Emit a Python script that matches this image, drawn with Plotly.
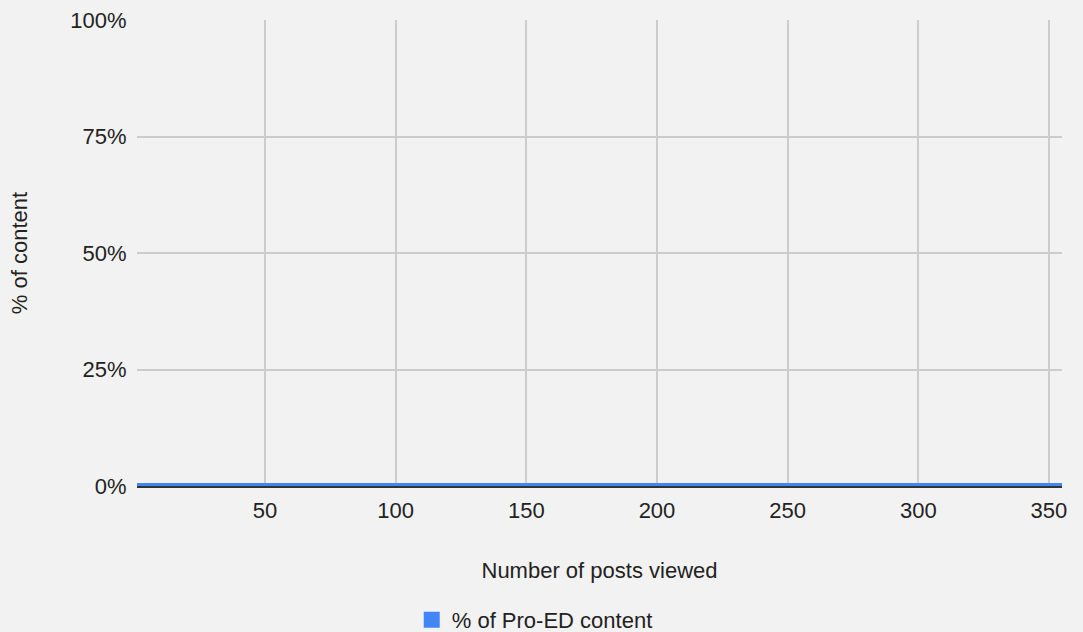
import plotly.graph_objects as go

posts_viewed = list(range(1, 356))
pro_ed_share = [0.0] * len(posts_viewed)  # every reading sits on 0%
x_ticks = [50, 100, 150, 200, 250, 300, 350]
y_ticks = [0, 0.25, 0.5, 0.75, 1.0]
y_tick_labels = ["0%", "25%", "50%", "75%", "100%"]

BLUE = "#4285f4"
FONT = "Liberation Sans, Arial, sans-serif"
FS = 22

fig = go.Figure()
fig.add_trace(go.Scatter(
    x=posts_viewed, y=pro_ed_share, mode="lines", fill="tozeroy",
    line=dict(color=BLUE, width=6), fillcolor=BLUE,
    name="% of Pro-ED content", showlegend=False,
))
# legend swatch (square, like the original)
fig.add_trace(go.Scatter(x=[None], y=[None], mode="markers",
                         marker=dict(color=BLUE, symbol="square", size=16),
                         name="% of Pro-ED content", showlegend=True))

fig.update_layout(
    width=1083, height=632,
    paper_bgcolor="#f2f2f2", plot_bgcolor="#f2f2f2",
    margin=dict(l=137, r=21, t=20, b=146, autoexpand=False),
    font=dict(family=FONT, size=FS, color="#222222"),
    showlegend=True,
    legend=dict(orientation="h", x=0.297, xanchor="left", y=-0.2876, yanchor="middle",
                font=dict(size=FS, color="#222222"), bgcolor="rgba(0,0,0,0)",
                itemsizing="trace"),
    xaxis=dict(
        range=[1, 355], tickvals=x_ticks, showgrid=True, gridcolor="#cccccc", gridwidth=1.5,
        zeroline=False, showline=True, linecolor="#333333", linewidth=2,
        ticks="outside", ticklen=4, tickcolor="rgba(0,0,0,0)",
        title=dict(text="Number of posts viewed", standoff=40, font=dict(size=FS)),
    ),
    yaxis=dict(
        range=[0, 1], tickvals=y_ticks, ticktext=y_tick_labels,
        showgrid=True, gridcolor="#cccccc", gridwidth=1.5, zeroline=False,
        ticks="outside", ticklen=5, tickcolor="rgba(0,0,0,0)",
        title=dict(text="% of content", standoff=36, font=dict(size=FS)),
    ),
)

fig.write_html("out.html")
